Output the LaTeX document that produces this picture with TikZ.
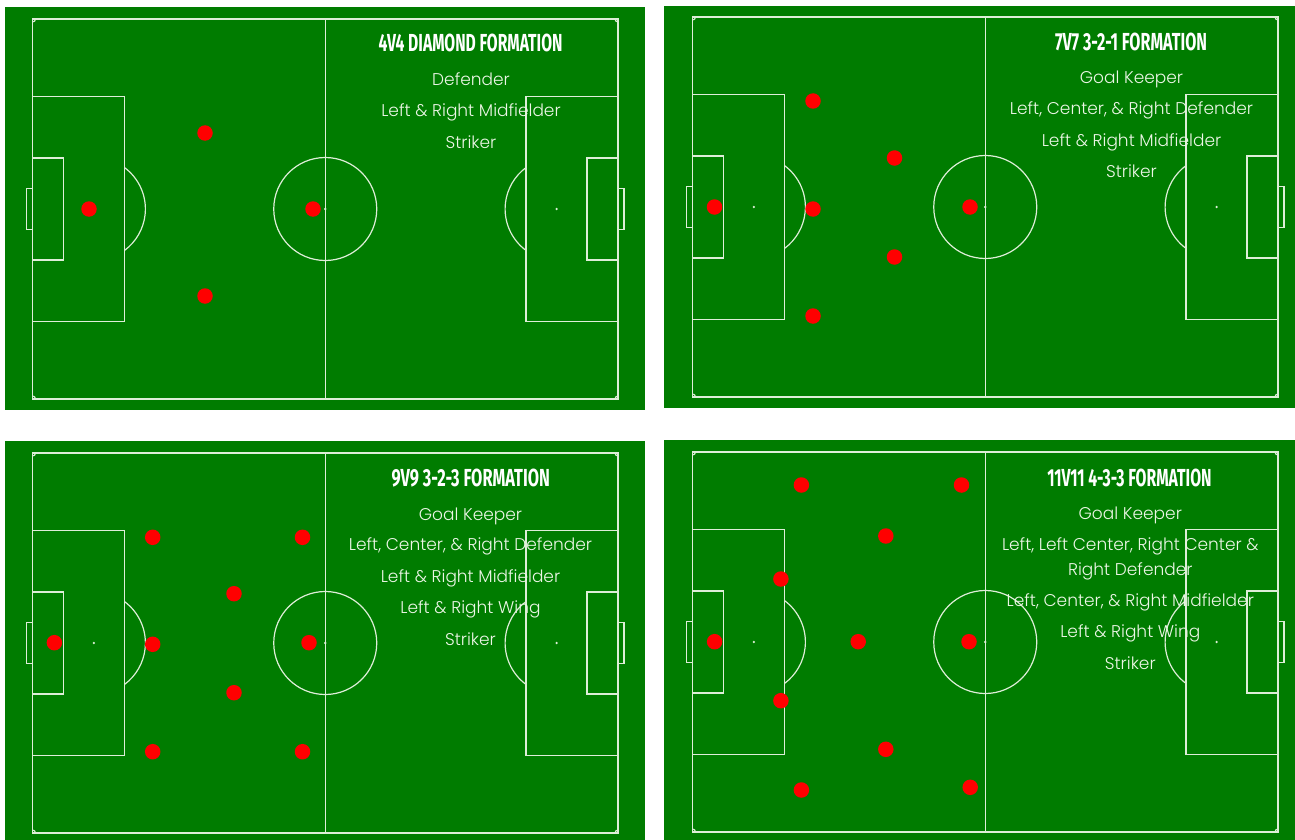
\documentclass[tikz,border=0pt]{standalone}
\usepackage{fontspec}
\usepackage{graphicx}
\newfontfamily\bodyfont{Poppins}[UprightFont=* Light]
\newfontfamily\titlefont{Fira Sans}[UprightFont=* Bold]
\definecolor{pitchgreen}{RGB}{0,124,0}
\definecolor{linecol}{RGB}{222,238,216}
\definecolor{txtcol}{RGB}{236,246,230}
\definecolor{dotred}{RGB}{255,0,0}
\tikzset{
  pline/.style={draw=linecol, line width=1.2pt},
  player/.style={circle, fill=dotred, inner sep=0pt, minimum size=15.5pt},
  ftitle/.style={anchor=base, inner sep=0pt, text=white},
  fline/.style={anchor=base, inner sep=0pt, text=txtcol, font=\bodyfont\fontsize{17}{20}\selectfont},
}
\newcommand\drawpitch[2]{%
\begin{scope}[shift={(#1,#2)}]
 \draw[pline] (0,0) rectangle (585.5,380);
 \draw[pline] (292.75,0) -- (292.75,380);
 \draw[pline] (292.75,190) circle[radius=51.5];
 \fill[linecol] (292.75,190) circle[radius=1.3];
 \draw[pline] (0,77.5) rectangle (92,302.5);
 \draw[pline] (0,139) rectangle (31,241);
 \draw[pline] (-6,169.5) rectangle (0,210.5);
 \fill[linecol] (61.4,190) circle[radius=1.3];
 \draw[pline] (61.4,190) ++(-53.5:51.5) arc[start angle=-53.5,end angle=53.5,radius=51.5];
 \draw[pline] (493.5,77.5) rectangle (585.5,302.5);
 \draw[pline] (554.5,139) rectangle (585.5,241);
 \draw[pline] (585.5,169.5) rectangle (591.5,210.5);
 \fill[linecol] (524.1,190) circle[radius=1.3];
 \draw[pline] (524.1,190) ++(126.5:51.5) arc[start angle=126.5,end angle=233.5,radius=51.5];
 \begin{scope}
  \clip (0,0) rectangle (585.5,380);
  \foreach \p in {(0,0),(585.5,0),(0,380),(585.5,380)} \draw[pline] \p circle[radius=3];
 \end{scope}
\end{scope}}
\begin{document}
\begin{tikzpicture}[x=1pt,y=-1pt]
\useasboundingbox (0,0) rectangle (1295,840);
% panels
\fill[pitchgreen] (5,7) rectangle (645,410);
\fill[pitchgreen] (664,6) rectangle (1295,408);
\fill[pitchgreen] (5,441) rectangle (645,840);
\fill[pitchgreen] (664,440) rectangle (1295,840);
\drawpitch{32.5}{19}
\drawpitch{692.5}{17}
\drawpitch{32.5}{453}
\drawpitch{692.5}{452}
% ---------- pitch 1 ----------
\node[ftitle] (t1) at (470.5,51.7) {\resizebox{184pt}{17.5pt}{\titlefont 4V4 DIAMOND FORMATION}};
\node[fline] (a1) at (471,85.7) {Defender};
\node[fline] (a2) at (471,116.7) {Left \& Right Midfielder};
\node[fline] (a3) at (471,148.3) {Striker};
\node[player] (p11) at (89,209) {};
\node[player] (p12) at (205,133) {};
\node[player] (p13) at (205,296) {};
\node[player] (p14) at (313,209) {};
% ---------- pitch 2 ----------
\node[ftitle] (t2) at (1131,51) {\resizebox{152pt}{17.5pt}{\titlefont 7V7 3-2-1 FORMATION}};
\node[fline] (b1) at (1131.5,84) {Goal Keeper};
\node[fline] (b2) at (1131.5,115) {Left, Center, \& Right Defender};
\node[fline] (b3) at (1131.5,146.7) {Left \& Right Midfielder};
\node[fline] (b4) at (1131.5,177.7) {Striker};
\node[player] (p21) at (714.5,207) {};
\node[player] (p22) at (813,101) {};
\node[player] (p23) at (813,209) {};
\node[player] (p24) at (813,316) {};
\node[player] (p25) at (894.5,158) {};
\node[player] (p26) at (894.5,257) {};
\node[player] (p27) at (970,207) {};
% ---------- pitch 3 ----------
\node[ftitle] (t3) at (470.8,486.5) {\resizebox{158.3pt}{17.5pt}{\titlefont 9V9 3-2-3 FORMATION}};
\node[fline] (c1) at (470.5,520) {Goal Keeper};
\node[fline] (c2) at (470.5,550.7) {Left, Center, \& Right Defender};
\node[fline] (c3) at (470.5,582.7) {Left \& Right Midfielder};
\node[fline] (c4) at (470.5,613.3) {Left \& Right Wing};
\node[fline] (c5) at (470.5,645) {Striker};
\node[player] (p31) at (54.4,642.7) {};
\node[player] (p32) at (152.7,537.3) {};
\node[player] (p33) at (152.7,644.3) {};
\node[player] (p34) at (152.7,751.7) {};
\node[player] (p35) at (234,593.7) {};
\node[player] (p36) at (234,692.7) {};
\node[player] (p37) at (302.5,537.3) {};
\node[player] (p38) at (302.5,751.7) {};
\node[player] (p39) at (309,642.7) {};
% ---------- pitch 4 ----------
\node[ftitle] (t4) at (1129.5,486) {\resizebox{164.3pt}{17.5pt}{\titlefont 11V11 4-3-3 FORMATION}};
\node[fline] (d1) at (1130.3,519) {Goal Keeper};
\node[fline] (d2) at (1130.3,550) {Left, Left Center, Right Center \&};
\node[fline] (d3) at (1130.3,575) {Right Defender};
\node[fline] (d4) at (1130.3,606.7) {Left, Center, \& Right Midfielder};
\node[fline] (d5) at (1130.3,637.7) {Left \& Right Wing};
\node[fline] (d6) at (1130.3,669) {Striker};
\node[player] (p41) at (714.6,641.7) {};
\node[player] (p42) at (801.4,485) {};
\node[player] (p43) at (961.5,485) {};
\node[player] (p44) at (885.8,536) {};
\node[player] (p45) at (780.9,579) {};
\node[player] (p46) at (858.2,641.7) {};
\node[player] (p47) at (969,641.7) {};
\node[player] (p48) at (780.9,700.7) {};
\node[player] (p49) at (885.8,749.3) {};
\node[player] (p4a) at (801.4,790) {};
\node[player] (p4b) at (970.2,787.3) {};
\end{tikzpicture}
\end{document}
